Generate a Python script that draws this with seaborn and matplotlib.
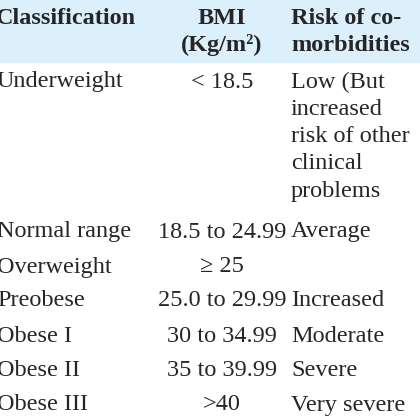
import matplotlib
matplotlib.use("Agg")
import matplotlib.pyplot as plt
import seaborn as sns

classification = ["Underweight", "Normal range", "Overweight", "Preobese", "Obese I", "Obese II", "Obese III"]
bmi = ["< 18.5", "18.5 to 24.99", "≥ 25", "25.0 to 29.99", "30 to 34.99", "35 to 39.99", ">40"]
risk = ["Low (But\nincreased\nrisk of other\nclinical\nproblems", "Average", "", "Increased", "Moderate", "Severe", "Very severe"]
headers = ["Classification", "BMI\n(Kg/m²)", "Risk of co-\nmorbidities"]

sns.set_theme(style="white")
plt.rcParams['font.family'] = ['Liberation Serif', 'DejaVu Serif']

fig = plt.figure(figsize=(4.2, 4.2), dpi=100)
ax = fig.add_axes([0, 0, 1, 1])
ax.set_xlim(0, 420)
ax.set_ylim(420, 0)
ax.axis("off")

ax.axhspan(0, 62, color="#dcf0fb", zorder=0)
fs = 17.5
lh = 27.3
ax.text(-4, 18, headers[0], fontsize=fs, weight="bold", va="center", ha="left")
for i, line in enumerate(headers[1].split("\n")):
    ax.text(222, 18 + i * lh, line, fontsize=fs, weight="bold", va="center", ha="center")
for i, line in enumerate(headers[2].split("\n")):
    ax.text(291, 18 + i * lh, line, fontsize=fs, weight="bold", va="center", ha="left")

row_y = [82, 232, 267, 301, 336, 371, 405]
for y, c, b, r in zip(row_y, classification, bmi, risk):
    ax.text(-3, y, c, fontsize=fs, va="center", ha="left")
    ax.text(222, y, b, fontsize=fs, va="center", ha="center")
    for j, line in enumerate(r.split("\n")):
        if line:
            ax.text(291, y + j * lh, line, fontsize=fs, va="center", ha="left")

fig.savefig("out.png", dpi=100)
